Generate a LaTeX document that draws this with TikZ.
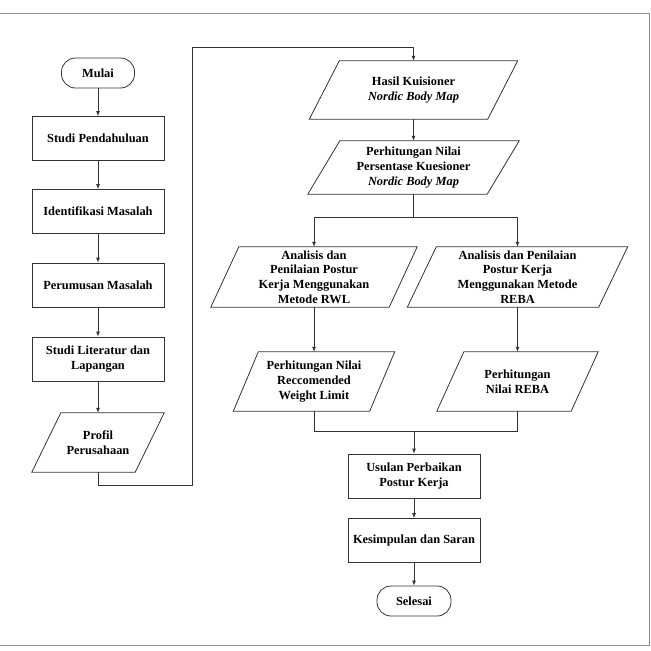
\documentclass[tikz,border=0pt]{standalone}
\usepackage{fontspec}
\setmainfont{Liberation Serif}
\usetikzlibrary{arrows.meta}
\definecolor{framegray}{gray}{0.55}
\definecolor{linegray}{gray}{0.2}
\newcommand\nodefont{\fontsize{12.4}{14.6}\selectfont\bfseries}
\newcommand\paradraw[2]{\draw[shapeline] ([xshift=#2]#1.north west) -- ([xshift=#2]#1.north east) -- ([xshift=-#2]#1.south east) -- ([xshift=-#2]#1.south west) -- cycle;}
\tikzset{
  shapeline/.style={draw=linegray, line width=0.8pt},
  box/.style={shapeline, rectangle, minimum width=132, minimum height=44, inner sep=0pt, align=center, font=\nodefont},
  term/.style={shapeline, rectangle, rounded corners=14pt, minimum height=30, inner sep=0pt, align=center, font=\nodefont},
  io/.style={rectangle, inner sep=0pt, align=center, font=\nodefont},
  conn/.style={draw=linegray, line width=0.8pt},
  arr/.style={conn, -{Latex[length=5pt,width=4pt]}},
}
\begin{document}
\begin{tikzpicture}[x=1pt,y=-1pt]
\useasboundingbox (0,0) rectangle (651,651);
% outer frame
\draw[framegray, line width=1.5pt] (0,13.7) -- (649.5,13.7) -- (649.5,645.5) -- (0,645.5);

% left column
\node[term, minimum width=73] (mulai) at (98,73) {Mulai};
\node[box] (sp) at (98,138.5) {Studi Pendahuluan};
\node[box] (im) at (98,211.5) {Identifikasi Masalah};
\node[box] (pm) at (98,285) {Perumusan Masalah};
\node[box] (sl) at (98,359) {Studi Literatur dan\\Lapangan};
\node[io, minimum width=103, minimum height=59] (prof) at (98,442.5) {Profil\\Perusahaan};
\paradraw{prof}{14.5}

% right section
\node[io, minimum width=178, minimum height=58] (hasil) at (413.5,90) {Hasil Kuisioner\\\textit{Nordic Body Map}};
\paradraw{hasil}{15}
\node[io, minimum width=179, minimum height=53] (perh) at (413.5,167.5) {Perhitungan Nilai\\Persentase Kuesioner\\\textit{Nordic Body Map}};
\paradraw{perh}{16}

\node[io, minimum width=178, minimum height=60] (aL) at (314,277) {Analisis dan\\Penilaian Postur\\Kerja Menggunakan\\Metode RWL};
\paradraw{aL}{14}
\node[io, minimum width=191, minimum height=60] (aR) at (517.5,277) {Analisis dan Penilaian\\Postur Kerja\\Menggunakan Metode\\REBA};
\paradraw{aR}{14.5}

\node[io, minimum width=136, minimum height=59] (bL) at (314,381.5) {Perhitungan Nilai\\Reccomended\\Weight Limit};
\paradraw{bL}{12.5}
\node[io, minimum width=134, minimum height=59] (bR) at (517.5,381.5) {Perhitungan\\Nilai REBA};
\paradraw{bR}{13.5}

\node[box] (us) at (414,476) {Usulan Perbaikan\\Postur Kerja};
\node[box] (ks) at (414,540.5) {Kesimpulan dan Saran};
\node[term, minimum width=74] (sel) at (414,601) {Selesai};

% connectors
\draw[arr] (mulai) -- (sp);
\draw[arr] (sp) -- (im);
\draw[arr] (im) -- (pm);
\draw[arr] (pm) -- (sl);
\draw[arr] (sl) -- (prof);

\coordinate (j1) at (192,485);
\coordinate (j2) at (192,47);
\draw[arr] (prof.south) |- (j1) -- (j2) -| (hasil.north);
\draw[arr] (hasil) -- (perh);

\coordinate (br) at (413.5,217);
\draw[conn] (perh.south) -- (br);
\draw[arr] (br) -| (aL.north);
\draw[arr] (br) -| (aR.north);

\draw[arr] (aL) -- (bL);
\draw[arr] (aR) -- (bR);

\coordinate (mg) at (414,431);
\draw[conn] (bL.south) |- (mg);
\draw[conn] (bR.south) |- (mg);
\draw[arr] (mg) -- (us.north);
\draw[arr] (us) -- (ks);
\draw[arr] (ks) -- (sel);
\end{tikzpicture}
\end{document}
